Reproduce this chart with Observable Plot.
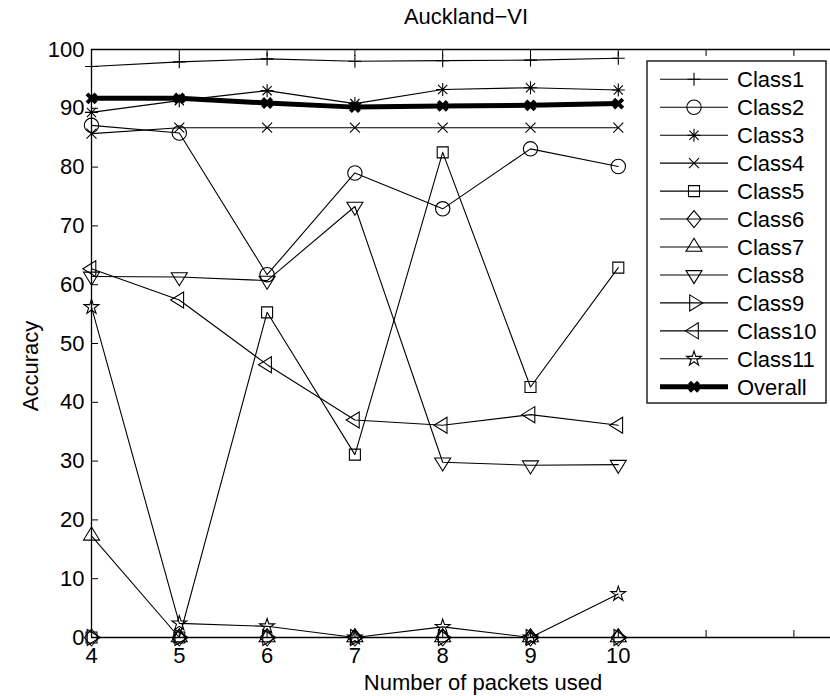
<!DOCTYPE html>
<html><head><meta charset="utf-8">
<script src="https://cdn.jsdelivr.net/npm/d3@7"></script>
<script src="https://cdn.jsdelivr.net/npm/@observablehq/plot@0.6"></script>
<style>
body{margin:0;background:#fff;}
#wrap{position:relative;width:830px;height:696px;font-family:"Liberation Sans",Arial,sans-serif;overflow:hidden;}
#legend{position:absolute;left:0;top:0;pointer-events:none;}
</style></head><body><div id="wrap"></div>
<script>
// ---- data ----
const xValues = [4, 5, 6, 7, 8, 9, 10];
const class1 = [97.1, 97.9, 98.4, 98.0, 98.1, 98.2, 98.5];
const class2 = [87.1, 85.8, 61.7, 79.0, 72.9, 83.1, 80.1];
const class3 = [89.3, 91.3, 93.0, 90.8, 93.2, 93.5, 93.1];
const class4 = [85.7, 86.7, 86.7, 86.7, 86.7, 86.7, 86.7];
const class5 = [0, 0, 55.3, 31.1, 82.5, 42.6, 62.9];
const class6 = [0, 0, 0, 0, 0, 0, 0];
const class7 = [17.3, 0, 0, 0, 0, 0, 0];
const class8 = [61.4, 61.3, 60.7, 73.3, 29.8, 29.3, 29.4];
const class9 = [0, 0, 0, 0, 0, 0, 0];
const class10 = [62.7, 57.4, 46.4, 37.0, 36.1, 37.9, 36.1];
const class11 = [56.2, 2.4, 1.9, 0, 1.8, 0, 7.4];
const overall = [91.7, 91.7, 90.9, 90.2, 90.4, 90.5, 90.8];
const seriesNames = ["Class1","Class2","Class3","Class4","Class5","Class6","Class7","Class8","Class9","Class10","Class11","Overall"];
const seriesValues = [class1,class2,class3,class4,class5,class6,class7,class8,class9,class10,class11,overall];
const yTicks = [0,10,20,30,40,50,60,70,80,90,100];
const xTicks = [4,5,6,7,8,9,10,11,12];
const xTickLabels = ["4","5","6","7","8","9","10","",""];
const titleText = "Auckland\u2212VI";
const xLabel = "Number of packets used";
const yLabel = "Accuracy";

// ---- marker shapes (pixel units at r = 10) ----
function mk(fn){ return { draw(ctx, size){ const k = Math.sqrt(size/Math.PI)/10; fn(ctx, k); } }; }
function poly(ctx, pts, k){ ctx.moveTo(pts[0][0]*k, pts[0][1]*k); for (let i=1;i<pts.length;i++) ctx.lineTo(pts[i][0]*k, pts[i][1]*k); ctx.closePath(); }
const symPlus = mk((c,k)=>{const h=6.5*k; c.moveTo(-h,0);c.lineTo(h,0);c.moveTo(0,-h);c.lineTo(0,h);});
const symCircle = mk((c,k)=>{const r=7.2*k; c.moveTo(r,0); c.arc(0,0,r,0,2*Math.PI);});
const symAster = mk((c,k)=>{const h=6.5*k,d=4.6*k; c.moveTo(-h,0);c.lineTo(h,0);c.moveTo(0,-h);c.lineTo(0,h);c.moveTo(-d,-d);c.lineTo(d,d);c.moveTo(-d,d);c.lineTo(d,-d);});
const symTimes = mk((c,k)=>{const h=5*k; c.moveTo(-h,-h);c.lineTo(h,h);c.moveTo(-h,h);c.lineTo(h,-h);});
const symSquare = mk((c,k)=>poly(c,[[-5.5,-5.5],[5.5,-5.5],[5.5,5.5],[-5.5,5.5]],k));
const symDiamond = mk((c,k)=>poly(c,[[0,-8.5],[7,0],[0,8.5],[-7,0]],k));
const symTriUp = mk((c,k)=>poly(c,[[0,-8.7],[8,4.3],[-8,4.3]],k));
const symTriDown = mk((c,k)=>poly(c,[[0,8.7],[8,-4.3],[-8,-4.3]],k));
const symTriRight = mk((c,k)=>poly(c,[[8.7,0],[-4.3,-8],[-4.3,8]],k));
const symTriLeft = mk((c,k)=>poly(c,[[-8.7,0],[4.3,-8],[4.3,8]],k));
const symStar = mk((c,k)=>{const R=7.8,r=R*0.382,pts=[];for(let i=0;i<10;i++){const a=-Math.PI/2+i*Math.PI/5;const rr=i%2?r:R;pts.push([rr*Math.cos(a),rr*Math.sin(a)]);}poly(c,pts,k);});
const symBigX = mk((c,k)=>{const h=4.5*k; c.moveTo(-h,-h);c.lineTo(h,h);c.moveTo(-h,h);c.lineTo(h,-h);});
const symbols = [symPlus,symCircle,symAster,symTimes,symSquare,symDiamond,symTriUp,symTriDown,symTriRight,symTriLeft,symStar,symBigX];

// ---- layout ----
const W = 830, H = 696, mL = 91, mR = 0, mT = 49, mB = 59;
const frameW = W - mL - mR, frameH = H - mT - mB;
const pxPerUnit = 87.8;
const xMax = 4 + frameW / pxPerUnit;
const FONT = 22;
const FAMILY = '"Liberation Sans", Arial, sans-serif';

const marks = [];
marks.push(Plot.ruleY([0, 100], {stroke: "black", strokeWidth: 1.3}));
marks.push(Plot.ruleX([4], {stroke: "black", strokeWidth: 1.3}));
marks.push(Plot.ruleX(xTicks, {x: d => d, insetTop: frameH - 7, stroke: "black", strokeWidth: 1}));
marks.push(Plot.ruleX(xTicks, {x: d => d, insetBottom: frameH - 7, stroke: "black", strokeWidth: 1}));
marks.push(Plot.ruleY(yTicks, {y: d => d, insetRight: frameW - 7, stroke: "black", strokeWidth: 1}));
marks.push(Plot.axisY({ticks: yTicks, tickSize: 0, tickPadding: 7, label: null, fontSize: FONT}));
marks.push(Plot.axisX({ticks: xTicks, tickFormat: d => xTickLabels[xTicks.indexOf(d)], tickSize: 0, tickPadding: 10, label: null, fontSize: FONT}));

seriesNames.forEach((name, i) => {
  const rows = xValues.map((x, j) => ({x, y: seriesValues[i][j], series: name}));
  const isOverall = name === "Overall";
  marks.push(Plot.line(rows, {x: "x", y: "y", stroke: "black", strokeWidth: isOverall ? 5 : 1.1}));
  marks.push(Plot.dot(rows, {x: "x", y: "y", r: 10, symbol: symbols[i], stroke: "black", fill: "none", strokeWidth: isOverall ? 4 : 1.1}));
});

marks.push(Plot.text([titleText], {frameAnchor: "top", lineAnchor: "bottom", dy: -26, dx: 5, fontSize: FONT}));
marks.push(Plot.text([xLabel], {frameAnchor: "bottom", lineAnchor: "bottom", dy: 52, dx: 22, fontSize: FONT}));

const chart = Plot.plot({
  width: W, height: H,
  marginLeft: mL, marginRight: mR, marginTop: mT, marginBottom: mB,
  x: {domain: [4, xMax], axis: null},
  y: {domain: [0, 100], axis: null},
  style: {fontFamily: FAMILY, fontSize: FONT + "px", color: "black", background: "white", overflow: "visible"},
  marks
});
const wrap = document.getElementById("wrap");
wrap.appendChild(chart);

// ---- overlay: y label and legend ----
const lg = d3.select(wrap).append("svg").attr("id", "legend").attr("width", W).attr("height", H);
lg.append("text").attr("transform", "translate(30,366) rotate(-90)").attr("text-anchor", "middle")
  .attr("dy", "0.36em").attr("font-size", FONT).attr("font-family", FAMILY).text(yLabel);
const box = {x: 647, y: 61, w: 179, h: 342};
lg.append("rect").attr("x", box.x).attr("y", box.y).attr("width", box.w).attr("height", box.h)
  .attr("fill", "white").attr("stroke", "black").attr("stroke-width", 1.3);
seriesNames.forEach((name, i) => {
  const cy = 79.3 + i * 27.95;
  const isOverall = name === "Overall";
  const g = lg.append("g");
  g.append("line").attr("x1", 660).attr("x2", 728).attr("y1", cy).attr("y2", cy)
    .attr("stroke", "black").attr("stroke-width", isOverall ? 5 : 1.1);
  const p = d3.path();
  symbols[i].draw(p, 100 * Math.PI);
  g.append("path").attr("d", p.toString()).attr("transform", `translate(694,${cy})`)
    .attr("fill", "none").attr("stroke", "black").attr("stroke-width", isOverall ? 4 : 1.1);
  g.append("text").attr("x", 737).attr("y", cy).attr("dy", "0.36em")
    .attr("font-size", FONT).attr("font-family", FAMILY).text(name);
});
</script></body></html>
